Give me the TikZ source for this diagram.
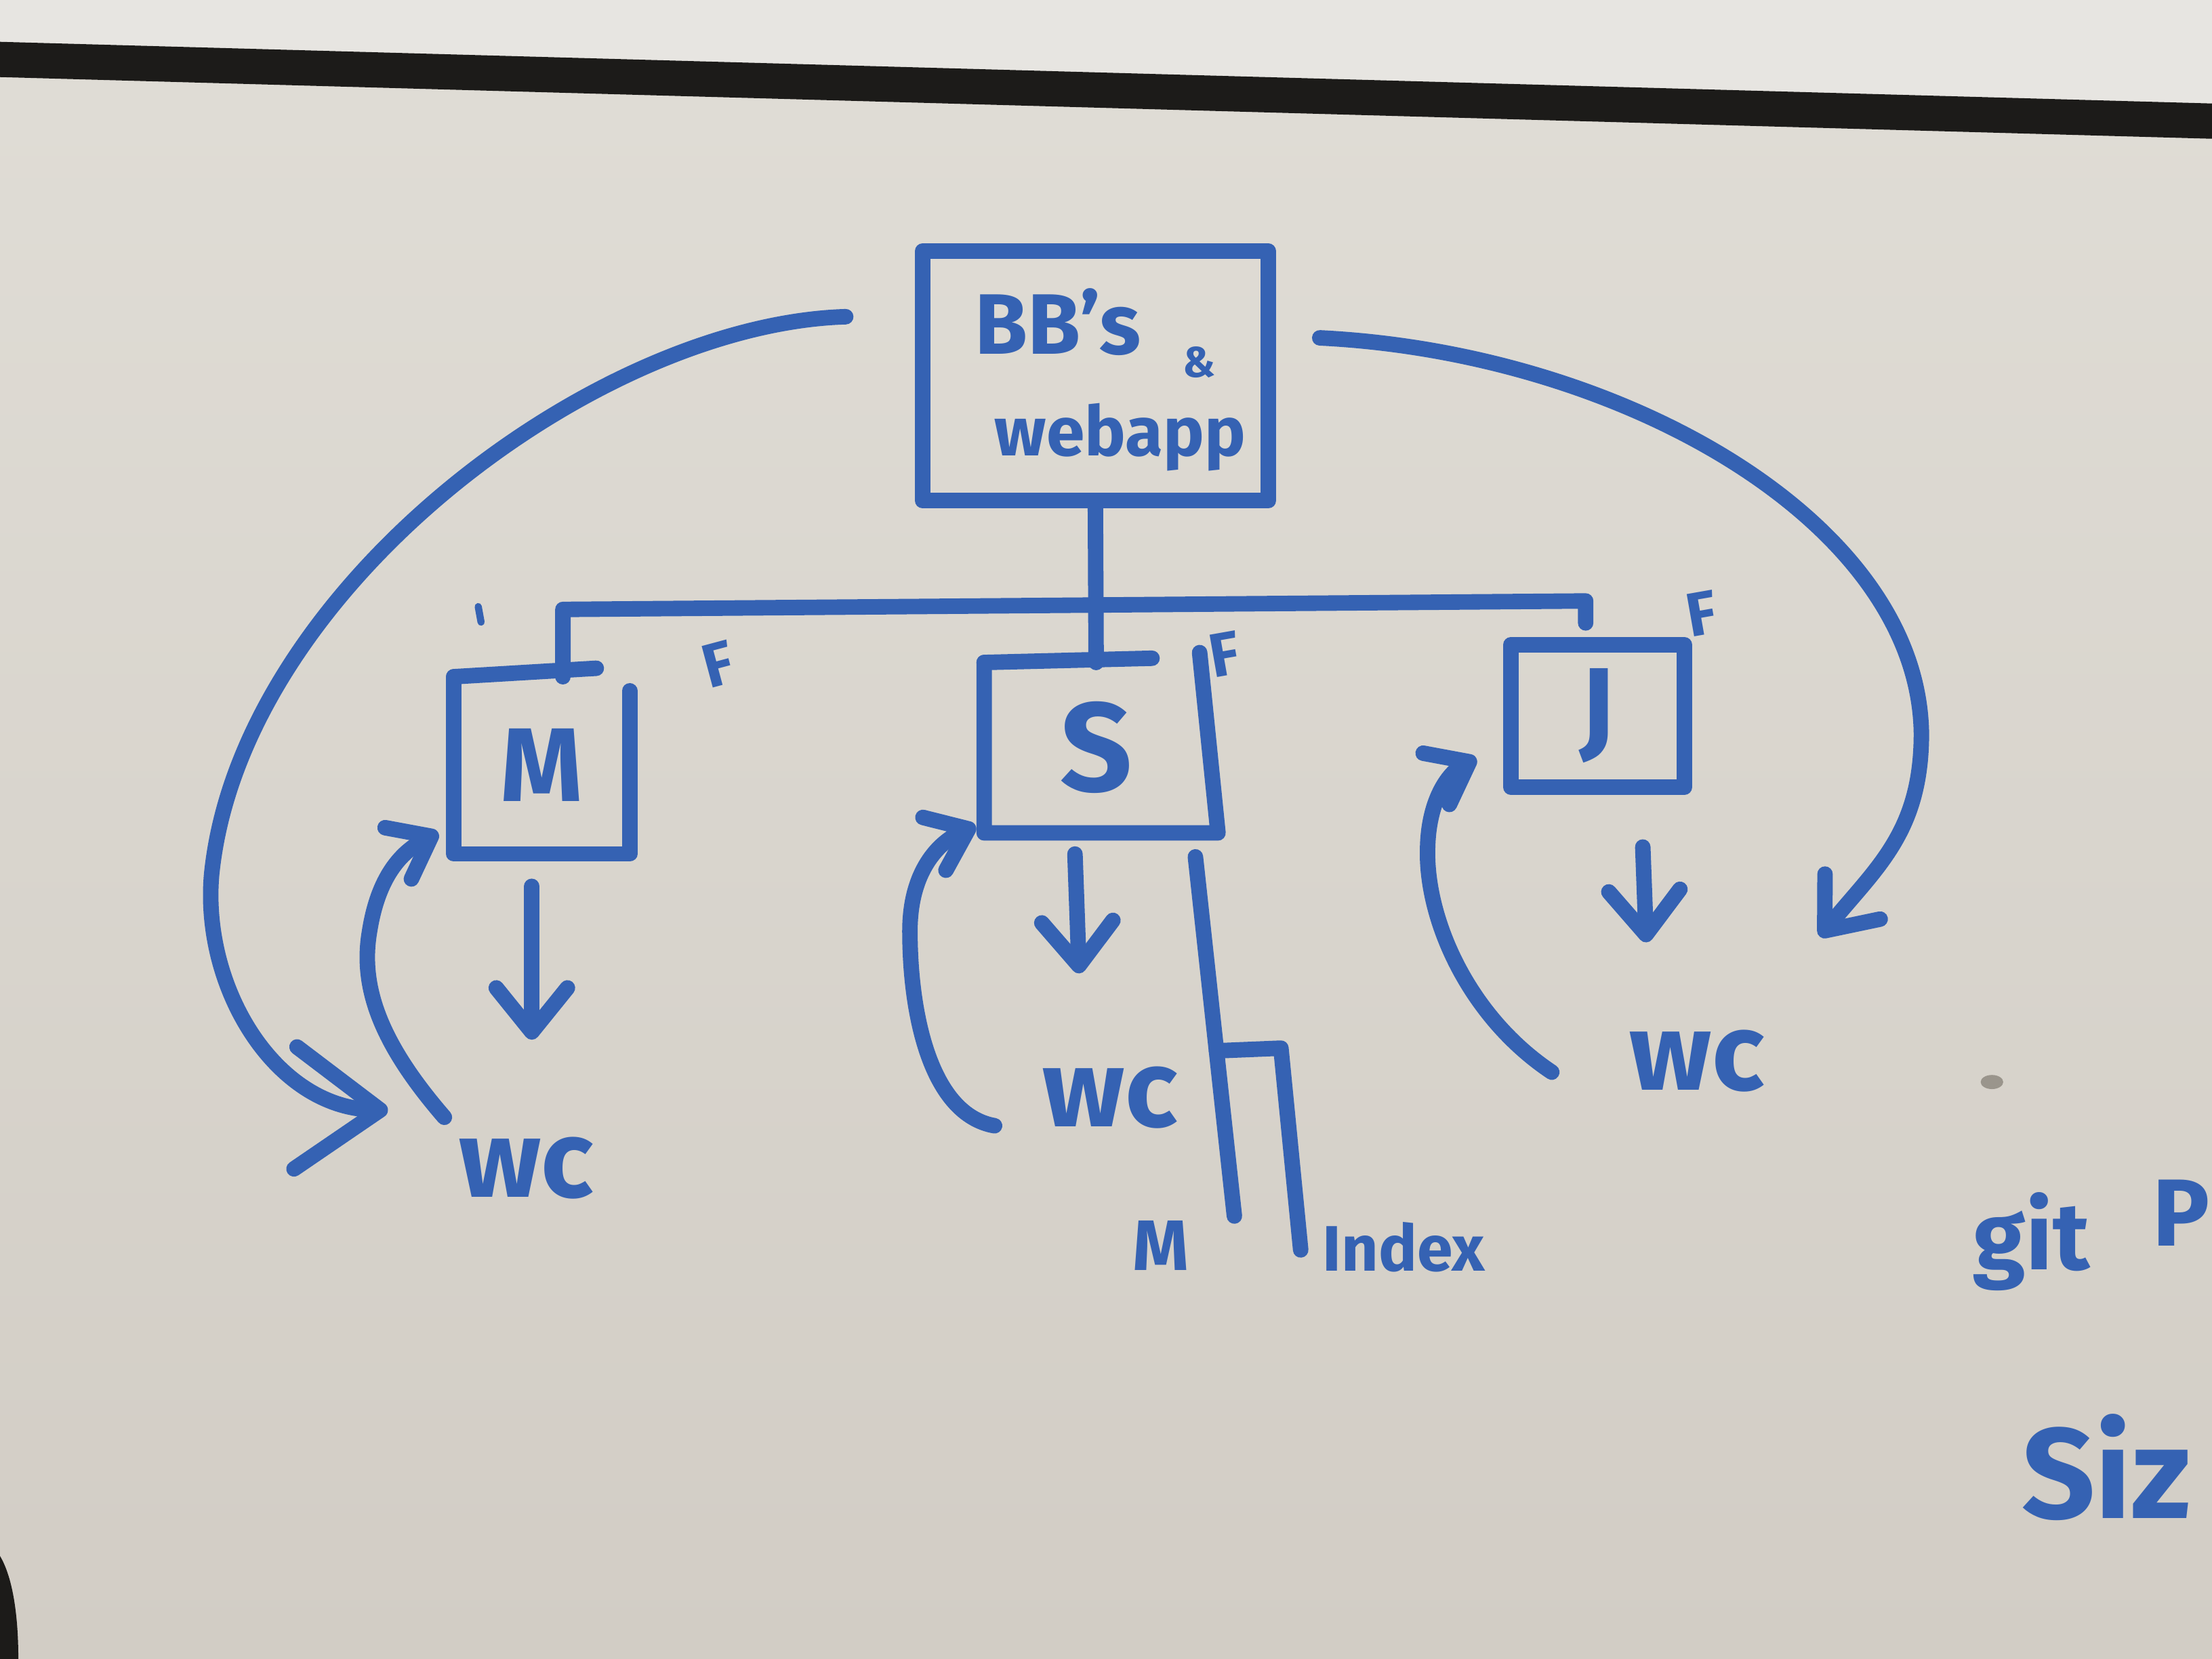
\documentclass[tikz,border=0pt]{standalone}
\usepackage{fontspec}
\setmainfont{Fira Sans}
\usetikzlibrary{arrows.meta,calc}
\definecolor{boardtop}{HTML}{E0DDD6}
\definecolor{boardbot}{HTML}{D2CDC5}
\definecolor{wall}{HTML}{E7E5E1}
\definecolor{ink}{HTML}{3562B3}
\definecolor{frame}{HTML}{1C1B19}
\definecolor{smudge}{HTML}{9A958C}
\begin{document}
\begin{tikzpicture}[x=0.020816cm,y=-0.020816cm,
  pen/.style={draw=ink,line width=6.5pt,line cap=round,line join=round},
  arr/.style={pen,-{Straight Barb[length=0.65cm,width=1.05cm,round]}},
  bigarr/.style={pen,-{Straight Barb[length=1.25cm,width=1.8cm,round]}},
  smallarr/.style={pen,-{Straight Barb[length=0.55cm,width=0.85cm,round]}},
  hold/.style={rectangle,inner sep=0pt,text=ink},
  lbl/.style={text=ink,inner sep=0pt,font=\bfseries\fontsize{#1}{#1}\selectfont}]
\useasboundingbox (0,0) rectangle (1568,1176);
\clip (0,0) rectangle (1568,1176);
\shade[top color=boardtop,bottom color=boardbot] (0,0) rectangle (1568,1176);
% wall and frame
\fill[wall] (0,0) -- (0,42) -- (1568,86) -- (1568,0) -- cycle;
\draw[frame,line width=0.52cm] (-5,42) -- (1573,86);
\fill[frame] (0,1103) .. controls (9,1118) and (13,1145) .. (13,1176) -- (0,1176) -- cycle;
\fill[smudge] (1412,767) ellipse [x radius=8, y radius=5];

% main box
\node[hold,pen,minimum width=5.10cm,minimum height=3.68cm] (web) at (776.5,266.5) {};
\node[lbl=36] (bbs) at (750,228) {BB's};
\node[lbl=18] (amp) at (850,257) {\&};
\node[lbl=29] (webapp) at (794,310) {webapp};

% child boxes
\node[hold,lbl=44,minimum width=2.58cm,minimum height=2.60cm] (M) at (384,542.5) {M};
\node[hold,lbl=53,minimum width=3.29cm,minimum height=2.50cm] (S) at (777,530) {S};
\node[hold,pen,lbl=46,minimum width=2.56cm,minimum height=2.10cm] (J) at (1132.5,507.5) {J};
\draw[pen] (M.north west) -- (M.south west) -- (M.south east) -- ($(M.north east)+(0,10)$);
\draw[pen] (M.north west) -- ($(M.north west)+(101,-6)$);
\draw[pen] (S.north west) -- (S.south west) -- ($(S.south east)+(7,0)$) -- ($(S.north east)+(-6,-7)$);
\draw[pen] (S.north west) -- ($(S.north west)+(119,-3)$);

% F labels
\node[lbl=26,rotate=15] (fm) at (509,471) {F};
\node[lbl=26,rotate=10] (fs) at (868,464) {F};
\node[lbl=26,rotate=10] (fj) at (1206,435) {F};

% wc labels
\node[lbl=46] (mwc) at (373,828) {wc};
\node[lbl=46] (swc) at (787,778) {wc};
\node[lbl=46] (jwc) at (1203,752) {wc};

% bus
\coordinate (mleg) at (399,432);
\coordinate (jleg) at (1124,426);
\draw[pen] (web.south) -- (S.north);
\draw[pen] (M.north -| mleg) -- (mleg) -- (jleg) -- ($(J.north -| jleg)+(0,-10)$);
\draw[pen,line width=3pt] (339,430) -- (341,441);

% down arrows
\draw[arr] ($(M.south)+(-7,23)$) -- ($(mwc.center)+(4,-91)$);
\draw[arr] ($(S.south)+(-15,15)$) -- ($(swc.center)+(-22,-88)$);
\draw[arr] ($(J.south)+(32,37)$) -- ($(jwc.center)+(-36,-84)$);

% return arrows
\coordinate (mup) at ($(mwc.center)+(-58,-36)$);
\coordinate (sup) at ($(swc.center)+(-82,20)$);
\coordinate (jup) at ($(jwc.center)+(-103,8)$);
\draw[smallarr] (mup) .. controls (270,740) and (255,700) .. (262,660)
  .. controls (268,622) and (284,604) .. ($(M.south west)+(-11,-15)$);
\draw[smallarr] (sup) .. controls (660,790) and (645,720) .. (645,660)
  .. controls (645,618) and (665,597) .. ($(S.south west)+(-6,-5)$);
\draw[smallarr] (jup) .. controls (1040,720) and (1010,650) .. (1012,600)
  .. controls (1013,565) and (1028,547) .. ($(J.west)+(-19,30)$);

% big arcs
\coordinate (lstart) at ($(web.west)+(-49,-42)$);
\coordinate (ltip) at ($(mwc.center)+(-98,-41)$);
\coordinate (rstart) at ($(web.east)+(31,-27)$);
\coordinate (rtip) at ($(jwc.center)+(87,-88)$);
\draw[bigarr] (lstart) .. controls (420,230) and (170,420) .. (150,620)
  .. controls (143,700) and (195,785) .. (ltip);
\draw[arr] (rstart) .. controls (1150,250) and (1360,370) .. (1362,520)
  .. controls (1362,590) and (1330,615) .. (rtip);

% index
\coordinate (i0) at ($(S.south east)+(-9,17)$);
\coordinate (i1) at (875,862);
\coordinate (i2) at ($(i0)!0.54!(i1)$);
\coordinate (i3) at (908,743);
\coordinate (i4) at (922,886);
\draw[pen] (i0) -- (i1);
\draw[pen] (i2) -- (i3) -- (i4);
\node[lbl=30] (mlab) at (823,883) {M};
\node[lbl=27] (idx) at (995,884) {Index};

% right side notes
\node[lbl=40] (git) at (1440,880) {git};
\node[lbl=40] (pp) at (1546,860) {P};
\node[lbl=54] (siz) at (1493,1040) {Siz};
\end{tikzpicture}
\end{document}
